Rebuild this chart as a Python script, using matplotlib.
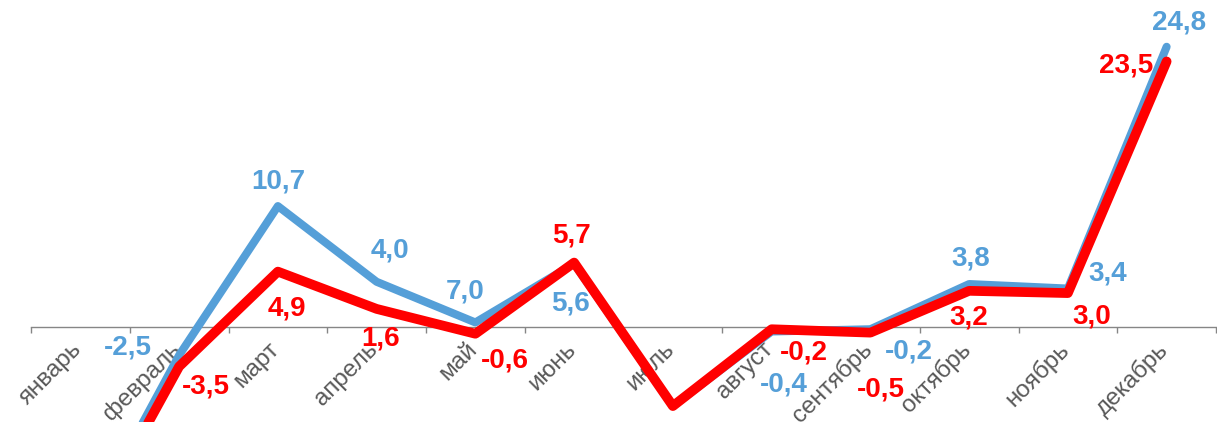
import numpy as np
import matplotlib
matplotlib.use("Agg")
import matplotlib.pyplot as plt
import matplotlib.transforms as mtransforms

plt.rcParams['font.family'] = ['Liberation Sans', 'DejaVu Sans']

# data
months = ["январь", "февраль", "март", "апрель", "май", "июнь",
          "июль", "август", "сентябрь", "октябрь", "ноябрь", "декабрь"]
blue_values = [-18.7, -2.5, 10.7, 4.0, 0.4, 5.6, -7.0, -0.4, -0.2, 3.8, 3.4, 24.8]
red_values = [-19.4, -3.5, 4.9, 1.6, -0.6, 5.7, -7.0, -0.2, -0.5, 3.2, 3.0, 23.5]
blue_labels = [None, "-2,5", "10,7", "4,0", "7,0", "5,6", None, "-0,4", "-0,2", "3,8", "3,4", "24,8"]
red_labels = [None, "-3,5", "4,9", "1,6", "-0,6", "5,7", None, "-0,2", "-0,5", "3,2", "3,0", "23,5"]

# label offsets in pixels (dx, dy), dy up
blue_off = [(0, 0), (-51, 8), (0, 25), (13, 31), (-10, 31), (-4, -40), (0, 0),
            (12, -53), (38, -22), (2, 26), (40, 15), (12, 24)]
red_off = [(0, 0), (27, -20), (9, -37), (4, -30), (30, -27), (-3, 27), (0, 0),
           (32, -23), (11, -57), (0, -27), (24, -23), (-40, -4)]

blue = "#559FD8"
red = "#FF0000"

fig = plt.figure(figsize=(12.17, 4.22), dpi=100)
ax = fig.add_axes([31 / 1217, 0, 1185 / 1217, 1])

x = np.arange(len(months))
ax.plot(x, blue_values, color=blue, lw=5.8, solid_capstyle="round", solid_joinstyle="round", zorder=3)
ax.plot(x, red_values, color=red, lw=7.0, solid_capstyle="round", solid_joinstyle="round", zorder=4)

for i in range(len(months)):
    if blue_labels[i]:
        ax.annotate(blue_labels[i], (x[i], blue_values[i]), xytext=blue_off[i],
                    textcoords="offset pixels", ha="center", va="center",
                    color=blue, fontsize=20, fontweight="bold", zorder=5, annotation_clip=False)
    if red_labels[i]:
        ax.annotate(red_labels[i], (x[i], red_values[i]), xytext=red_off[i],
                    textcoords="offset pixels", ha="center", va="center",
                    color=red, fontsize=20, fontweight="bold", zorder=5, annotation_clip=False)

ax.set_xlim(-0.5, 11.5)
ax.set_ylim(-8.41, 28.94)

for s in ["top", "left", "right"]:
    ax.spines[s].set_visible(False)
ax.spines["bottom"].set_position(("data", 0))
ax.spines["bottom"].set_color("#868686")
ax.spines["bottom"].set_linewidth(1.0)
ax.set_yticks([])

ax.set_xticks(x)
ax.set_xticklabels(months, rotation=45, ha="right", va="top", color="#595959", fontsize=17.5)
ax.set_xticks(np.arange(-0.5, 12, 1), minor=True)
ax.tick_params(axis="x", which="major", length=0, pad=8)
ax.tick_params(axis="x", which="minor", length=4.3, width=1, color="#868686", direction="out")

shift = mtransforms.ScaledTranslation(6 / 100, 0, fig.dpi_scale_trans)
for lbl in ax.get_xticklabels():
    lbl.set_transform(lbl.get_transform() + shift)

plt.savefig("out.png", dpi=100)
